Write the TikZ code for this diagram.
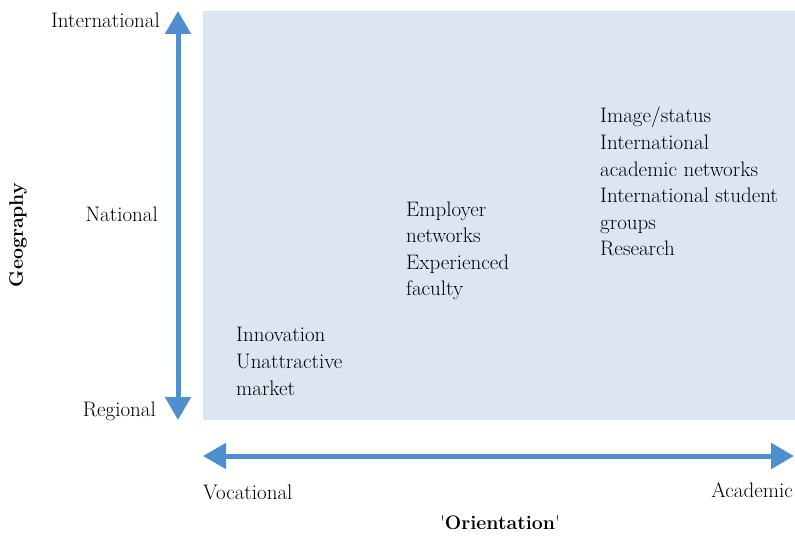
\documentclass[tikz,border=0pt]{standalone}
\usepackage{tikz}
\usetikzlibrary{arrows.meta}
\definecolor{axisblue}{HTML}{4F8FCD}
\definecolor{paneblue}{HTML}{DCE6F2}

\begin{document}
\begin{tikzpicture}
  [x=1pt, y=-1pt,
   every node/.style={inner sep=0pt, font=\fontsize{21}{26.6}\selectfont},
   axis/.style={draw=axisblue, line width=5pt,
     {Triangle[width=25pt,length=23pt]}-{Triangle[width=25pt,length=23pt]}},
   tick/.style={anchor=base east},
   item/.style={anchor=base west, align=left},
   title/.style={font=\fontsize{19.5}{22}\selectfont\bfseries}]

  \useasboundingbox (0,0) rectangle (795,537);

  %Background pane
  \fill[paneblue] (203,11) rectangle (795,420);

  %Axes
  \coordinate (geotop) at (178,11);
  \coordinate (geobot) at (178,420);
  \coordinate (orleft) at (203,456);
  \coordinate (orright) at (794,456);
  \draw[axis] (geobot) -- (geotop);
  \draw[axis] (orleft) -- (orright);

  %Geography levels
  \node[tick] (intl) at (160,28) {International};
  \node[tick] (natl) at (158,222) {National};
  \node[tick] (regl) at (156,416) {Regional};
  \node[title, rotate=90] (geo) at (18,235) {Geography};

  %Orientation ends
  \node[anchor=base west] (voc) at (203,499) {Vocational};
  \node[anchor=base east] (acad) at (793,497) {Academic};
  \node[title, anchor=base] (orient) at (500,529)
    {{\mdseries\textquotesingle}Orientation{\mdseries\textquotesingle}};

  %Factors (base = last line)
  \node[item] (low) at (236,395) {Innovation\\Unattractive\\market};
  \node[item] (mid) at (406,296) {Employer\\networks\\Experienced\\faculty};
  \node[item] (high) at (600,256) {Image/status\\International\\academic networks\\International student\\groups\\Research};
\end{tikzpicture}
\end{document}
